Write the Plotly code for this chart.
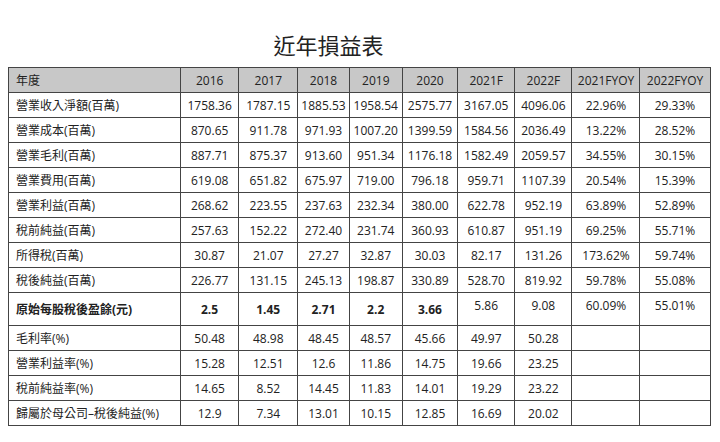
import plotly.graph_objects as go

headers = ["年度", "2016", "2017", "2018", "2019", "2020", "2021F", "2022F", "2021FYOY", "2022FYOY"]
items = ["營業收入淨額(百萬)", "營業成本(百萬)", "營業毛利(百萬)", "營業費用(百萬)", "營業利益(百萬)",
         "稅前純益(百萬)", "所得稅(百萬)", "稅後純益(百萬)", "<b>原始每股稅後盈餘(元)</b>",
         "毛利率(%)", "營業利益率(%)", "稅前純益率(%)", "歸屬於母公司–稅後純益(%)"]
y2016 = ["1758.36", "870.65", "887.71", "619.08", "268.62", "257.63", "30.87", "226.77", "<b>2.5</b>", "50.48", "15.28", "14.65", "12.9"]
y2017 = ["1787.15", "911.78", "875.37", "651.82", "223.55", "152.22", "21.07", "131.15", "<b>1.45</b>", "48.98", "12.51", "8.52", "7.34"]
y2018 = ["1885.53", "971.93", "913.60", "675.97", "237.63", "272.40", "27.27", "245.13", "<b>2.71</b>", "48.45", "12.6", "14.45", "13.01"]
y2019 = ["1958.54", "1007.20", "951.34", "719.00", "232.34", "231.74", "32.87", "198.87", "<b>2.2</b>", "48.57", "11.86", "11.83", "10.15"]
y2020 = ["2575.77", "1399.59", "1176.18", "796.18", "380.00", "360.93", "30.03", "330.89", "<b>3.66</b>", "45.66", "14.75", "14.01", "12.85"]
y2021f = ["3167.05", "1584.56", "1582.49", "959.71", "622.78", "610.87", "82.17", "528.70", "5.86", "49.97", "19.66", "19.29", "16.69"]
y2022f = ["4096.06", "2036.49", "2059.57", "1107.39", "952.19", "951.19", "131.26", "819.92", "9.08", "50.28", "23.25", "23.22", "20.02"]
yoy2021 = ["22.96%", "13.22%", "34.55%", "20.54%", "63.89%", "69.25%", "173.62%", "59.78%", "60.09%", "", "", "", ""]
yoy2022 = ["29.33%", "28.52%", "30.15%", "15.39%", "52.89%", "55.71%", "59.74%", "55.08%", "55.01%", "", "", "", ""]

font = "Open Sans, Noto Sans CJK TC"
fig = go.Figure(go.Table(
    domain=dict(x=[0, 0.975], y=[0, 0.865]),
    columnwidth=[175, 59, 60, 52, 54, 56, 58, 58, 69, 71],
    header=dict(values=headers, fill_color="#c8c8c8", line_color="#444", height=25,
                align=["left"] + ["center"] * 9, font=dict(family=font, size=12, color="#222")),
    cells=dict(values=[items, y2016, y2017, y2018, y2019, y2020, y2021f, y2022f, yoy2021, yoy2022],
               fill_color="white", line_color="#444", height=25,
               align=["left"] + ["center"] * 9, font=dict(family=font, size=12, color="#222")),
))
fig.update_layout(
    width=720, height=442, margin=dict(l=0, r=0, t=0, b=0), paper_bgcolor="white",
    title=dict(text="近年損益表", x=0.445, y=0.93, xanchor="center",
               font=dict(family="Noto Sans CJK TC", size=22, color="#222")),
)
fig.write_html("out.html")
